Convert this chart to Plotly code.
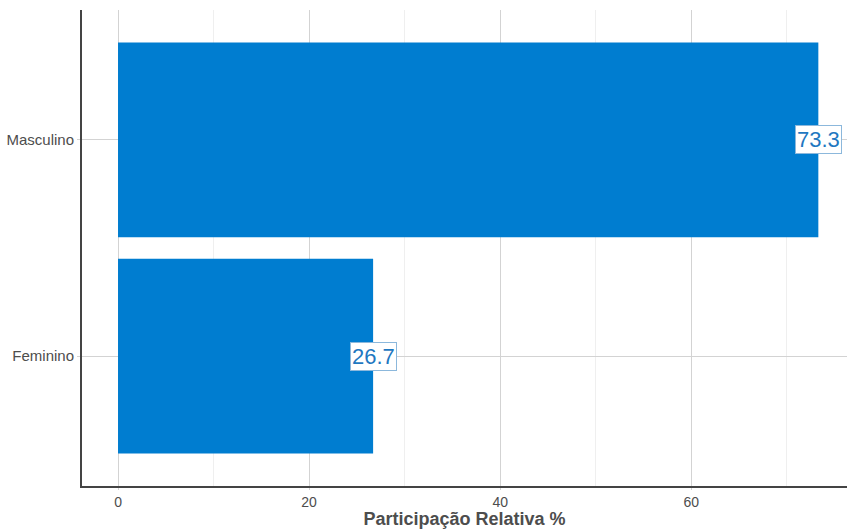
import plotly.graph_objects as go

categories = ["Feminino", "Masculino"]
values = [26.7, 73.3]
labels = ["26.7", "73.3"]
x_ticks = [0, 20, 40, 60]

bar_color = "#007DD0"

fig = go.Figure()
fig.add_trace(go.Bar(
    y=categories, x=values, orientation="h",
    marker=dict(color=bar_color, line=dict(width=0)),
    width=0.9, hoverinfo="skip"
))

for c, v, t in zip(categories, values, labels):
    fig.add_annotation(
        x=v, y=c, text=t, showarrow=False,
        font=dict(family="Liberation Sans, Arial", size=22, color="#1F78C1"),
        bgcolor="white", bordercolor="#8CB8DC", borderwidth=1, borderpad=1,
        xanchor="center", yanchor="middle"
    )

fig.update_layout(
    width=847, height=529,
    margin=dict(l=82, r=0, t=10, b=43),
    plot_bgcolor="white", paper_bgcolor="white",
    showlegend=False,
    font=dict(family="Liberation Sans, Arial", color="#4D4D4D"),
    bargap=0.1,
)

fig.update_xaxes(
    range=[-3.77, 76.3],
    tickvals=x_ticks, ticktext=[str(t) for t in x_ticks],
    tickfont=dict(size=14, color="#4D4D4D"),
    showgrid=True, gridcolor="#D3D3D3", gridwidth=1,
    minor=dict(dtick=10, tick0=0, showgrid=True, gridcolor="#EFEFEF", gridwidth=1),
    zeroline=False,
    showline=True, linecolor="#444444", linewidth=2,
    ticks="outside", ticklen=2, tickcolor="#D3D3D3",
    automargin=False,
    title=dict(text="<b>Participação Relativa %</b>", font=dict(size=18, color="#4D4D4D"), standoff=4),
)
fig.update_yaxes(
    range=[-0.6, 1.6],
    categoryorder="array", categoryarray=categories,
    tickfont=dict(size=15, color="#4D4D4D"),
    showgrid=True, gridcolor="#D3D3D3", gridwidth=1,
    zeroline=False,
    showline=True, linecolor="#444444", linewidth=2,
    ticks="outside", ticklen=3, tickcolor="#D3D3D3",
    automargin=False,
)

fig.write_html(
    "out.html",
    config={"displayModeBar": False},
    post_script="document.body.style.margin='0';document.body.style.overflow='hidden';"
)
